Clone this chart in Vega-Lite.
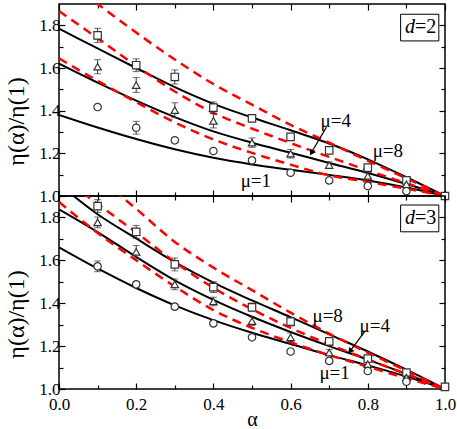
{
"$schema": "https://vega.github.io/schema/vega-lite/v6.json",
"padding": {"left": 3, "top": 2, "right": 0, "bottom": 0},
"config": {"view": {"stroke": "black", "strokeWidth": 1.5}, "font": "Liberation Serif, Times New Roman, serif"},
"datasets": {
"lines": [
{"p":"d2","c":"s8","k":"s","a":0,"v":1.784},{"p":"d2","c":"s8","k":"s","a":0.1,"v":1.692},{"p":"d2","c":"s8","k":"s","a":0.2,"v":1.6},{"p":"d2","c":"s8","k":"s","a":0.3,"v":1.51},{"p":"d2","c":"s8","k":"s","a":0.4,"v":1.432},{"p":"d2","c":"s8","k":"s","a":0.5,"v":1.368},{"p":"d2","c":"s8","k":"s","a":0.6,"v":1.308},{"p":"d2","c":"s8","k":"s","a":0.7,"v":1.246},{"p":"d2","c":"s8","k":"s","a":0.8,"v":1.172},{"p":"d2","c":"s8","k":"s","a":0.9,"v":1.088},{"p":"d2","c":"s8","k":"s","a":1,"v":1.0},
{"p":"d2","c":"s4","k":"s","a":0,"v":1.62},{"p":"d2","c":"s4","k":"s","a":0.1,"v":1.531},{"p":"d2","c":"s4","k":"s","a":0.2,"v":1.447},{"p":"d2","c":"s4","k":"s","a":0.3,"v":1.37},{"p":"d2","c":"s4","k":"s","a":0.4,"v":1.303},{"p":"d2","c":"s4","k":"s","a":0.5,"v":1.25},{"p":"d2","c":"s4","k":"s","a":0.6,"v":1.203},{"p":"d2","c":"s4","k":"s","a":0.7,"v":1.155},{"p":"d2","c":"s4","k":"s","a":0.8,"v":1.108},{"p":"d2","c":"s4","k":"s","a":0.9,"v":1.056},{"p":"d2","c":"s4","k":"s","a":1,"v":1.0},
{"p":"d2","c":"s1","k":"s","a":0,"v":1.38},{"p":"d2","c":"s1","k":"s","a":0.1,"v":1.321},{"p":"d2","c":"s1","k":"s","a":0.2,"v":1.267},{"p":"d2","c":"s1","k":"s","a":0.3,"v":1.219},{"p":"d2","c":"s1","k":"s","a":0.4,"v":1.179},{"p":"d2","c":"s1","k":"s","a":0.5,"v":1.148},{"p":"d2","c":"s1","k":"s","a":0.6,"v":1.123},{"p":"d2","c":"s1","k":"s","a":0.7,"v":1.099},{"p":"d2","c":"s1","k":"s","a":0.8,"v":1.073},{"p":"d2","c":"s1","k":"s","a":0.9,"v":1.04},{"p":"d2","c":"s1","k":"s","a":1,"v":1.0},
{"p":"d2","c":"rA","k":"r","a":0,"v":2.03},{"p":"d2","c":"rA","k":"r","a":0.1,"v":1.9},{"p":"d2","c":"rA","k":"r","a":0.2,"v":1.766},{"p":"d2","c":"rA","k":"r","a":0.3,"v":1.64},{"p":"d2","c":"rA","k":"r","a":0.4,"v":1.525},{"p":"d2","c":"rA","k":"r","a":0.5,"v":1.428},{"p":"d2","c":"rA","k":"r","a":0.6,"v":1.333},{"p":"d2","c":"rA","k":"r","a":0.7,"v":1.25},{"p":"d2","c":"rA","k":"r","a":0.8,"v":1.165},{"p":"d2","c":"rA","k":"r","a":0.9,"v":1.083},{"p":"d2","c":"rA","k":"r","a":1,"v":1.0},
{"p":"d2","c":"rB","k":"r","a":0,"v":1.867},{"p":"d2","c":"rB","k":"r","a":0.1,"v":1.74},{"p":"d2","c":"rB","k":"r","a":0.2,"v":1.61},{"p":"d2","c":"rB","k":"r","a":0.3,"v":1.49},{"p":"d2","c":"rB","k":"r","a":0.4,"v":1.39},{"p":"d2","c":"rB","k":"r","a":0.5,"v":1.316},{"p":"d2","c":"rB","k":"r","a":0.6,"v":1.248},{"p":"d2","c":"rB","k":"r","a":0.7,"v":1.183},{"p":"d2","c":"rB","k":"r","a":0.8,"v":1.12},{"p":"d2","c":"rB","k":"r","a":0.9,"v":1.06},{"p":"d2","c":"rB","k":"r","a":1,"v":1.0},
{"p":"d2","c":"rC","k":"r","a":0,"v":1.645},{"p":"d2","c":"rC","k":"r","a":0.1,"v":1.54},{"p":"d2","c":"rC","k":"r","a":0.2,"v":1.44},{"p":"d2","c":"rC","k":"r","a":0.3,"v":1.345},{"p":"d2","c":"rC","k":"r","a":0.4,"v":1.265},{"p":"d2","c":"rC","k":"r","a":0.5,"v":1.202},{"p":"d2","c":"rC","k":"r","a":0.6,"v":1.147},{"p":"d2","c":"rC","k":"r","a":0.7,"v":1.097},{"p":"d2","c":"rC","k":"r","a":0.8,"v":1.066},{"p":"d2","c":"rC","k":"r","a":0.9,"v":1.034},{"p":"d2","c":"rC","k":"r","a":1,"v":1.0},
{"p":"d3","c":"s8","k":"s","a":0,"v":1.955},{"p":"d3","c":"s8","k":"s","a":0.1,"v":1.815},{"p":"d3","c":"s8","k":"s","a":0.2,"v":1.702},{"p":"d3","c":"s8","k":"s","a":0.3,"v":1.592},{"p":"d3","c":"s8","k":"s","a":0.4,"v":1.496},{"p":"d3","c":"s8","k":"s","a":0.5,"v":1.413},{"p":"d3","c":"s8","k":"s","a":0.6,"v":1.335},{"p":"d3","c":"s8","k":"s","a":0.7,"v":1.255},{"p":"d3","c":"s8","k":"s","a":0.8,"v":1.175},{"p":"d3","c":"s8","k":"s","a":0.9,"v":1.09},{"p":"d3","c":"s8","k":"s","a":1,"v":1.0},
{"p":"d3","c":"s4","k":"s","a":0,"v":1.838},{"p":"d3","c":"s4","k":"s","a":0.1,"v":1.732},{"p":"d3","c":"s4","k":"s","a":0.2,"v":1.616},{"p":"d3","c":"s4","k":"s","a":0.3,"v":1.507},{"p":"d3","c":"s4","k":"s","a":0.4,"v":1.416},{"p":"d3","c":"s4","k":"s","a":0.5,"v":1.337},{"p":"d3","c":"s4","k":"s","a":0.6,"v":1.266},{"p":"d3","c":"s4","k":"s","a":0.7,"v":1.2},{"p":"d3","c":"s4","k":"s","a":0.8,"v":1.137},{"p":"d3","c":"s4","k":"s","a":0.9,"v":1.07},{"p":"d3","c":"s4","k":"s","a":1,"v":1.0},
{"p":"d3","c":"s1","k":"s","a":0,"v":1.661},{"p":"d3","c":"s1","k":"s","a":0.1,"v":1.562},{"p":"d3","c":"s1","k":"s","a":0.2,"v":1.471},{"p":"d3","c":"s1","k":"s","a":0.3,"v":1.39},{"p":"d3","c":"s1","k":"s","a":0.4,"v":1.321},{"p":"d3","c":"s1","k":"s","a":0.5,"v":1.262},{"p":"d3","c":"s1","k":"s","a":0.6,"v":1.21},{"p":"d3","c":"s1","k":"s","a":0.7,"v":1.158},{"p":"d3","c":"s1","k":"s","a":0.8,"v":1.11},{"p":"d3","c":"s1","k":"s","a":0.9,"v":1.058},{"p":"d3","c":"s1","k":"s","a":1,"v":1.0},
{"p":"d3","c":"rA","k":"r","a":0,"v":2.16},{"p":"d3","c":"rA","k":"r","a":0.1,"v":1.99},{"p":"d3","c":"rA","k":"r","a":0.2,"v":1.84},{"p":"d3","c":"rA","k":"r","a":0.3,"v":1.686},{"p":"d3","c":"rA","k":"r","a":0.4,"v":1.566},{"p":"d3","c":"rA","k":"r","a":0.5,"v":1.461},{"p":"d3","c":"rA","k":"r","a":0.6,"v":1.356},{"p":"d3","c":"rA","k":"r","a":0.7,"v":1.258},{"p":"d3","c":"rA","k":"r","a":0.8,"v":1.17},{"p":"d3","c":"rA","k":"r","a":0.9,"v":1.085},{"p":"d3","c":"rA","k":"r","a":1,"v":1.0},
{"p":"d3","c":"rM","k":"r","a":0,"v":2.0},{"p":"d3","c":"rM","k":"r","a":0.1,"v":1.863},{"p":"d3","c":"rM","k":"r","a":0.2,"v":1.73},{"p":"d3","c":"rM","k":"r","a":0.3,"v":1.592},{"p":"d3","c":"rM","k":"r","a":0.4,"v":1.472},{"p":"d3","c":"rM","k":"r","a":0.5,"v":1.372},{"p":"d3","c":"rM","k":"r","a":0.6,"v":1.285},{"p":"d3","c":"rM","k":"r","a":0.7,"v":1.208},{"p":"d3","c":"rM","k":"r","a":0.8,"v":1.138},{"p":"d3","c":"rM","k":"r","a":0.9,"v":1.069},{"p":"d3","c":"rM","k":"r","a":1,"v":1.0},
{"p":"d3","c":"rB","k":"r","a":0,"v":1.872},{"p":"d3","c":"rB","k":"r","a":0.1,"v":1.728},{"p":"d3","c":"rB","k":"r","a":0.2,"v":1.6},{"p":"d3","c":"rB","k":"r","a":0.3,"v":1.478},{"p":"d3","c":"rB","k":"r","a":0.4,"v":1.368},{"p":"d3","c":"rB","k":"r","a":0.5,"v":1.285},{"p":"d3","c":"rB","k":"r","a":0.6,"v":1.218},{"p":"d3","c":"rB","k":"r","a":0.7,"v":1.158},{"p":"d3","c":"rB","k":"r","a":0.8,"v":1.104},{"p":"d3","c":"rB","k":"r","a":0.9,"v":1.05},{"p":"d3","c":"rB","k":"r","a":1,"v":1.0}
],
"pts": [
{"p":"d2","mu":"8","a":0.1,"v":1.753,"e":0.033},{"p":"d2","mu":"8","a":0.2,"v":1.613,"e":0.03},{"p":"d2","mu":"8","a":0.3,"v":1.558,"e":0.033},{"p":"d2","mu":"8","a":0.4,"v":1.414,"e":0.027},{"p":"d2","mu":"8","a":0.5,"v":1.364,"e":0.008},{"p":"d2","mu":"8","a":0.6,"v":1.277,"e":0.008},{"p":"d2","mu":"8","a":0.7,"v":1.214,"e":0.008},{"p":"d2","mu":"8","a":0.8,"v":1.133,"e":0.008},{"p":"d2","mu":"8","a":0.9,"v":1.073,"e":0.008},{"p":"d2","mu":"8","a":1.0,"v":1.0,"e":0.001},
{"p":"d2","mu":"4","a":0.1,"v":1.606,"e":0.033},{"p":"d2","mu":"4","a":0.2,"v":1.52,"e":0.035},{"p":"d2","mu":"4","a":0.3,"v":1.402,"e":0.035},{"p":"d2","mu":"4","a":0.4,"v":1.352,"e":0.033},{"p":"d2","mu":"4","a":0.5,"v":1.25,"e":0.022},{"p":"d2","mu":"4","a":0.6,"v":1.198,"e":0.02},{"p":"d2","mu":"4","a":0.7,"v":1.145,"e":0.015},{"p":"d2","mu":"4","a":0.8,"v":1.094,"e":0.015},{"p":"d2","mu":"4","a":0.9,"v":1.055,"e":0.01},
{"p":"d2","mu":"1","a":0.1,"v":1.417,"e":0.01},{"p":"d2","mu":"1","a":0.2,"v":1.32,"e":0.03},{"p":"d2","mu":"1","a":0.3,"v":1.261,"e":0.012},{"p":"d2","mu":"1","a":0.4,"v":1.211,"e":0.01},{"p":"d2","mu":"1","a":0.5,"v":1.167,"e":0.01},{"p":"d2","mu":"1","a":0.6,"v":1.109,"e":0.01},{"p":"d2","mu":"1","a":0.7,"v":1.073,"e":0.01},{"p":"d2","mu":"1","a":0.8,"v":1.047,"e":0.01},{"p":"d2","mu":"1","a":0.9,"v":1.023,"e":0.01},
{"p":"d3","mu":"8","a":0.1,"v":1.853,"e":0.03},{"p":"d3","mu":"8","a":0.2,"v":1.733,"e":0.03},{"p":"d3","mu":"8","a":0.3,"v":1.581,"e":0.03},{"p":"d3","mu":"8","a":0.4,"v":1.475,"e":0.025},{"p":"d3","mu":"8","a":0.5,"v":1.381,"e":0.02},{"p":"d3","mu":"8","a":0.6,"v":1.314,"e":0.02},{"p":"d3","mu":"8","a":0.7,"v":1.222,"e":0.015},{"p":"d3","mu":"8","a":0.8,"v":1.142,"e":0.015},{"p":"d3","mu":"8","a":0.9,"v":1.077,"e":0.012},{"p":"d3","mu":"8","a":1.0,"v":1.01,"e":0.001},
{"p":"d3","mu":"4","a":0.1,"v":1.777,"e":0.025},{"p":"d3","mu":"4","a":0.2,"v":1.639,"e":0.03},{"p":"d3","mu":"4","a":0.3,"v":1.488,"e":0.025},{"p":"d3","mu":"4","a":0.4,"v":1.408,"e":0.02},{"p":"d3","mu":"4","a":0.5,"v":1.316,"e":0.02},{"p":"d3","mu":"4","a":0.6,"v":1.241,"e":0.02},{"p":"d3","mu":"4","a":0.7,"v":1.17,"e":0.015},{"p":"d3","mu":"4","a":0.8,"v":1.116,"e":0.01},{"p":"d3","mu":"4","a":0.9,"v":1.053,"e":0.01},
{"p":"d3","mu":"1","a":0.1,"v":1.572,"e":0.025},{"p":"d3","mu":"1","a":0.2,"v":1.488,"e":0.012},{"p":"d3","mu":"1","a":0.3,"v":1.384,"e":0.01},{"p":"d3","mu":"1","a":0.4,"v":1.306,"e":0.01},{"p":"d3","mu":"1","a":0.5,"v":1.241,"e":0.01},{"p":"d3","mu":"1","a":0.6,"v":1.175,"e":0.01},{"p":"d3","mu":"1","a":0.7,"v":1.131,"e":0.01},{"p":"d3","mu":"1","a":0.8,"v":1.084,"e":0.01},{"p":"d3","mu":"1","a":0.9,"v":1.034,"e":0.01}
],
"lab": [
{"p":"d2","a":0.717,"v":1.352,"t":"μ=4"},{"p":"d2","a":0.852,"v":1.211,"t":"μ=8"},{"p":"d2","a":0.51,"v":1.07,"t":"μ=1"},
{"p":"d3","a":0.696,"v":1.339,"t":"μ=8"},{"p":"d3","a":0.818,"v":1.292,"t":"μ=4"},{"p":"d3","a":0.714,"v":1.074,"t":"μ=1"}
],
"arr": [
{"p":"d2","a":0.693,"v":1.323,"a2":0.652,"v2":1.198},
{"p":"d3","a":0.794,"v":1.272,"a2":0.752,"v2":1.172}
],
"head": [
{"p":"d2","a":0.654,"v":1.202},
{"p":"d3","a":0.754,"v":1.176}
],
"box": [
{"p":"d2","a":0.885,"a2":0.984,"v":1.852,"v2":1.727,"ta":0.922,"tv":1.79,"n":"=2"},
{"p":"d3","a":0.885,"a2":0.984,"v":1.858,"v2":1.733,"ta":0.922,"tv":1.796,"n":"=3"}
]
},
"vconcat": [
{
"width": 386, "height": 192,
"resolve": {"axis": {"x": "independent", "y": "independent"}},
"layer": [
{"data": {"name": "lines"}, "transform": [{"filter": "datum.p=='d2' && datum.k=='s'"}],
 "mark": {"type": "line", "clip": true, "interpolate": "monotone", "color": "black", "strokeWidth": 2},
 "encoding": {
  "x": {"field": "a", "type": "quantitative", "scale": {"domain": [0, 1], "nice": false},
   "axis": {"orient": "bottom", "values": [0,0.1,0.2,0.3,0.4,0.5,0.6,0.7,0.8,0.9,1], "labels": false, "title": null, "domain": false, "grid": false, "tickColor": "black", "tickWidth": 1.2, "tickSize": {"condition": {"test": "round(datum.value*10)%2==0", "value": -6}, "value": -4}}},
  "y": {"field": "v", "type": "quantitative", "scale": {"domain": [1, 1.9], "nice": false, "zero": false},
   "axis": {"orient": "left", "values": [1,1.1,1.2,1.3,1.4,1.5,1.6,1.7,1.8], "labelExpr": "round(datum.value*10)%2==0 ? format(datum.value,'.1f') : ''", "labelFont": "Liberation Serif, Times New Roman, serif", "labelFontSize": 17, "labelColor": "black", "labelPadding": 5, "labelOverlap": false, "title": "η(α)/η(1)", "titleFont": "Liberation Serif, Times New Roman, serif", "titleFontSize": 24, "titleFontWeight": "normal", "titleColor": "black", "titleX": -43, "titleY": 117, "titleAlign": "center", "titleBaseline": "middle", "titleAngle": 270, "domain": false, "grid": false, "tickColor": "black", "tickWidth": 1.2, "tickSize": {"condition": {"test": "round(datum.value*10)%2==0", "value": -6}, "value": -4}}},
  "detail": {"field": "c"}}},
{"data": {"name": "lines"}, "transform": [{"filter": "datum.p=='d2' && datum.k=='r'"}],
 "mark": {"type": "line", "clip": true, "interpolate": "monotone", "color": "#ff0000", "strokeWidth": 2.5, "strokeDash": [9, 6]},
 "encoding": {
  "x": {"field": "a", "type": "quantitative",
   "axis": {"orient": "top", "values": [0,0.1,0.2,0.3,0.4,0.5,0.6,0.7,0.8,0.9,1], "labels": false, "title": null, "domain": false, "grid": false, "tickColor": "black", "tickWidth": 1.2, "tickSize": {"condition": {"test": "round(datum.value*10)%2==0", "value": -6}, "value": -4}}},
  "y": {"field": "v", "type": "quantitative",
   "axis": {"orient": "right", "values": [1,1.1,1.2,1.3,1.4,1.5,1.6,1.7,1.8], "labels": false, "title": null, "domain": false, "grid": false, "tickColor": "black", "tickWidth": 1.2, "tickSize": {"condition": {"test": "round(datum.value*10)%2==0", "value": -6}, "value": -4}}},
  "detail": {"field": "c"}}},
{"data": {"name": "pts"}, "transform": [{"filter": "datum.p=='d2'"}],
 "mark": {"type": "errorbar", "ticks": true, "size": 7, "thickness": 1, "color": "#333333"},
 "encoding": {"x": {"field": "a", "type": "quantitative", "axis": null}, "y": {"field": "v", "type": "quantitative", "axis": null}, "yError": {"field": "e"}}},
{"data": {"name": "pts"}, "transform": [{"filter": "datum.p=='d2'"}],
 "mark": {"type": "point", "filled": true, "fill": "white", "stroke": "#333333", "strokeWidth": 1.2, "size": 55, "opacity": 1},
 "encoding": {"x": {"field": "a", "type": "quantitative", "axis": null}, "y": {"field": "v", "type": "quantitative", "axis": null},
  "shape": {"field": "mu", "type": "nominal", "scale": {"domain": ["1", "4", "8"], "range": ["circle", "triangle-up", "square"]}, "legend": null}}},
{"data": {"name": "arr"}, "transform": [{"filter": "datum.p=='d2'"}],
 "mark": {"type": "rule", "color": "black", "strokeWidth": 1.2},
 "encoding": {"x": {"field": "a", "type": "quantitative", "axis": null}, "y": {"field": "v", "type": "quantitative", "axis": null}, "x2": {"field": "a2"}, "y2": {"field": "v2"}}},
{"data": {"name": "head"}, "transform": [{"filter": "datum.p=='d2'"}],
 "mark": {"type": "point", "shape": "triangle-up", "filled": true, "color": "black", "size": 45, "angle": 212, "opacity": 1},
 "encoding": {"x": {"field": "a", "type": "quantitative", "axis": null}, "y": {"field": "v", "type": "quantitative", "axis": null}}},
{"data": {"name": "lab"}, "transform": [{"filter": "datum.p=='d2'"}],
 "mark": {"type": "text", "font": "Liberation Serif, Times New Roman, serif", "fontSize": 19, "color": "black", "align": "center", "baseline": "middle"},
 "encoding": {"x": {"field": "a", "type": "quantitative", "axis": null}, "y": {"field": "v", "type": "quantitative", "axis": null}, "text": {"field": "t"}}},
{"data": {"name": "box"}, "transform": [{"filter": "datum.p=='d2'"}],
 "mark": {"type": "rect", "fill": "white", "stroke": "black", "strokeWidth": 1},
 "encoding": {"x": {"field": "a", "type": "quantitative", "axis": null}, "x2": {"field": "a2"}, "y": {"field": "v", "type": "quantitative", "axis": null}, "y2": {"field": "v2"}}},
{"data": {"name": "box"}, "transform": [{"filter": "datum.p=='d2'"}],
 "mark": {"type": "text", "font": "Liberation Serif, Times New Roman, serif", "fontSize": 20, "fontStyle": "italic", "color": "black", "align": "right", "baseline": "middle", "text": "d"},
 "encoding": {"x": {"field": "ta", "type": "quantitative", "axis": null}, "y": {"field": "tv", "type": "quantitative", "axis": null}}},
{"data": {"name": "box"}, "transform": [{"filter": "datum.p=='d2'"}],
 "mark": {"type": "text", "font": "Liberation Serif, Times New Roman, serif", "fontSize": 20, "color": "black", "align": "left", "baseline": "middle"},
 "encoding": {"x": {"field": "ta", "type": "quantitative", "axis": null}, "y": {"field": "tv", "type": "quantitative", "axis": null}, "text": {"field": "n"}}}
]
},
{
"width": 386, "height": 193,
"resolve": {"axis": {"x": "independent", "y": "independent"}},
"layer": [
{"data": {"name": "lines"}, "transform": [{"filter": "datum.p=='d3' && datum.k=='s'"}],
 "mark": {"type": "line", "clip": true, "interpolate": "monotone", "color": "black", "strokeWidth": 2},
 "encoding": {
  "x": {"field": "a", "type": "quantitative", "scale": {"domain": [0, 1], "nice": false},
   "axis": {"orient": "bottom", "values": [0,0.1,0.2,0.3,0.4,0.5,0.6,0.7,0.8,0.9,1], "labelExpr": "round(datum.value*10)%2==0 ? format(datum.value,'.1f') : ''", "labelFont": "Liberation Serif, Times New Roman, serif", "labelFontSize": 17, "labelColor": "black", "labelPadding": 13, "labelFlush": false, "labelOverlap": false, "title": "α", "titleFont": "Liberation Serif, Times New Roman, serif", "titleFontSize": 20, "titleFontWeight": "normal", "titleColor": "black", "titlePadding": -5, "domain": false, "grid": false, "tickColor": "black", "tickWidth": 1.2, "tickSize": {"condition": {"test": "round(datum.value*10)%2==0", "value": -6}, "value": -4}}},
  "y": {"field": "v", "type": "quantitative", "scale": {"domain": [1, 1.9], "nice": false, "zero": false},
   "axis": {"orient": "left", "values": [1,1.1,1.2,1.3,1.4,1.5,1.6,1.7,1.8], "labelExpr": "round(datum.value*10)%2==0 ? format(datum.value,'.1f') : ''", "labelFont": "Liberation Serif, Times New Roman, serif", "labelFontSize": 17, "labelColor": "black", "labelPadding": 5, "labelOverlap": false, "title": "η(α)/η(1)", "titleFont": "Liberation Serif, Times New Roman, serif", "titleFontSize": 24, "titleFontWeight": "normal", "titleColor": "black", "titleX": -43, "titleY": 118, "titleAlign": "center", "titleBaseline": "middle", "titleAngle": 270, "domain": false, "grid": false, "tickColor": "black", "tickWidth": 1.2, "tickSize": {"condition": {"test": "round(datum.value*10)%2==0", "value": -6}, "value": -4}}},
  "detail": {"field": "c"}}},
{"data": {"name": "lines"}, "transform": [{"filter": "datum.p=='d3' && datum.k=='r'"}],
 "mark": {"type": "line", "clip": true, "interpolate": "monotone", "color": "#ff0000", "strokeWidth": 2.5, "strokeDash": [9, 6]},
 "encoding": {
  "x": {"field": "a", "type": "quantitative",
   "axis": {"orient": "top", "values": [0,0.1,0.2,0.3,0.4,0.5,0.6,0.7,0.8,0.9,1], "labels": false, "title": null, "domain": false, "grid": false, "tickColor": "black", "tickWidth": 1.2, "tickSize": {"condition": {"test": "round(datum.value*10)%2==0", "value": -6}, "value": -4}}},
  "y": {"field": "v", "type": "quantitative",
   "axis": {"orient": "right", "values": [1,1.1,1.2,1.3,1.4,1.5,1.6,1.7,1.8], "labels": false, "title": null, "domain": false, "grid": false, "tickColor": "black", "tickWidth": 1.2, "tickSize": {"condition": {"test": "round(datum.value*10)%2==0", "value": -6}, "value": -4}}},
  "detail": {"field": "c"}}},
{"data": {"name": "pts"}, "transform": [{"filter": "datum.p=='d3'"}],
 "mark": {"type": "errorbar", "ticks": true, "size": 7, "thickness": 1, "color": "#333333"},
 "encoding": {"x": {"field": "a", "type": "quantitative", "axis": null}, "y": {"field": "v", "type": "quantitative", "axis": null}, "yError": {"field": "e"}}},
{"data": {"name": "pts"}, "transform": [{"filter": "datum.p=='d3'"}],
 "mark": {"type": "point", "filled": true, "fill": "white", "stroke": "#333333", "strokeWidth": 1.2, "size": 55, "opacity": 1},
 "encoding": {"x": {"field": "a", "type": "quantitative", "axis": null}, "y": {"field": "v", "type": "quantitative", "axis": null},
  "shape": {"field": "mu", "type": "nominal", "scale": {"domain": ["1", "4", "8"], "range": ["circle", "triangle-up", "square"]}, "legend": null}}},
{"data": {"name": "arr"}, "transform": [{"filter": "datum.p=='d3'"}],
 "mark": {"type": "rule", "color": "black", "strokeWidth": 1.2},
 "encoding": {"x": {"field": "a", "type": "quantitative", "axis": null}, "y": {"field": "v", "type": "quantitative", "axis": null}, "x2": {"field": "a2"}, "y2": {"field": "v2"}}},
{"data": {"name": "head"}, "transform": [{"filter": "datum.p=='d3'"}],
 "mark": {"type": "point", "shape": "triangle-up", "filled": true, "color": "black", "size": 45, "angle": 218, "opacity": 1},
 "encoding": {"x": {"field": "a", "type": "quantitative", "axis": null}, "y": {"field": "v", "type": "quantitative", "axis": null}}},
{"data": {"name": "lab"}, "transform": [{"filter": "datum.p=='d3'"}],
 "mark": {"type": "text", "font": "Liberation Serif, Times New Roman, serif", "fontSize": 19, "color": "black", "align": "center", "baseline": "middle"},
 "encoding": {"x": {"field": "a", "type": "quantitative", "axis": null}, "y": {"field": "v", "type": "quantitative", "axis": null}, "text": {"field": "t"}}},
{"data": {"name": "box"}, "transform": [{"filter": "datum.p=='d3'"}],
 "mark": {"type": "rect", "fill": "white", "stroke": "black", "strokeWidth": 1},
 "encoding": {"x": {"field": "a", "type": "quantitative", "axis": null}, "x2": {"field": "a2"}, "y": {"field": "v", "type": "quantitative", "axis": null}, "y2": {"field": "v2"}}},
{"data": {"name": "box"}, "transform": [{"filter": "datum.p=='d3'"}],
 "mark": {"type": "text", "font": "Liberation Serif, Times New Roman, serif", "fontSize": 20, "fontStyle": "italic", "color": "black", "align": "right", "baseline": "middle", "text": "d"},
 "encoding": {"x": {"field": "ta", "type": "quantitative", "axis": null}, "y": {"field": "tv", "type": "quantitative", "axis": null}}},
{"data": {"name": "box"}, "transform": [{"filter": "datum.p=='d3'"}],
 "mark": {"type": "text", "font": "Liberation Serif, Times New Roman, serif", "fontSize": 20, "color": "black", "align": "left", "baseline": "middle"},
 "encoding": {"x": {"field": "ta", "type": "quantitative", "axis": null}, "y": {"field": "tv", "type": "quantitative", "axis": null}, "text": {"field": "n"}}}
]
}
],
"spacing": 0,
"bounds": "flush"
}
